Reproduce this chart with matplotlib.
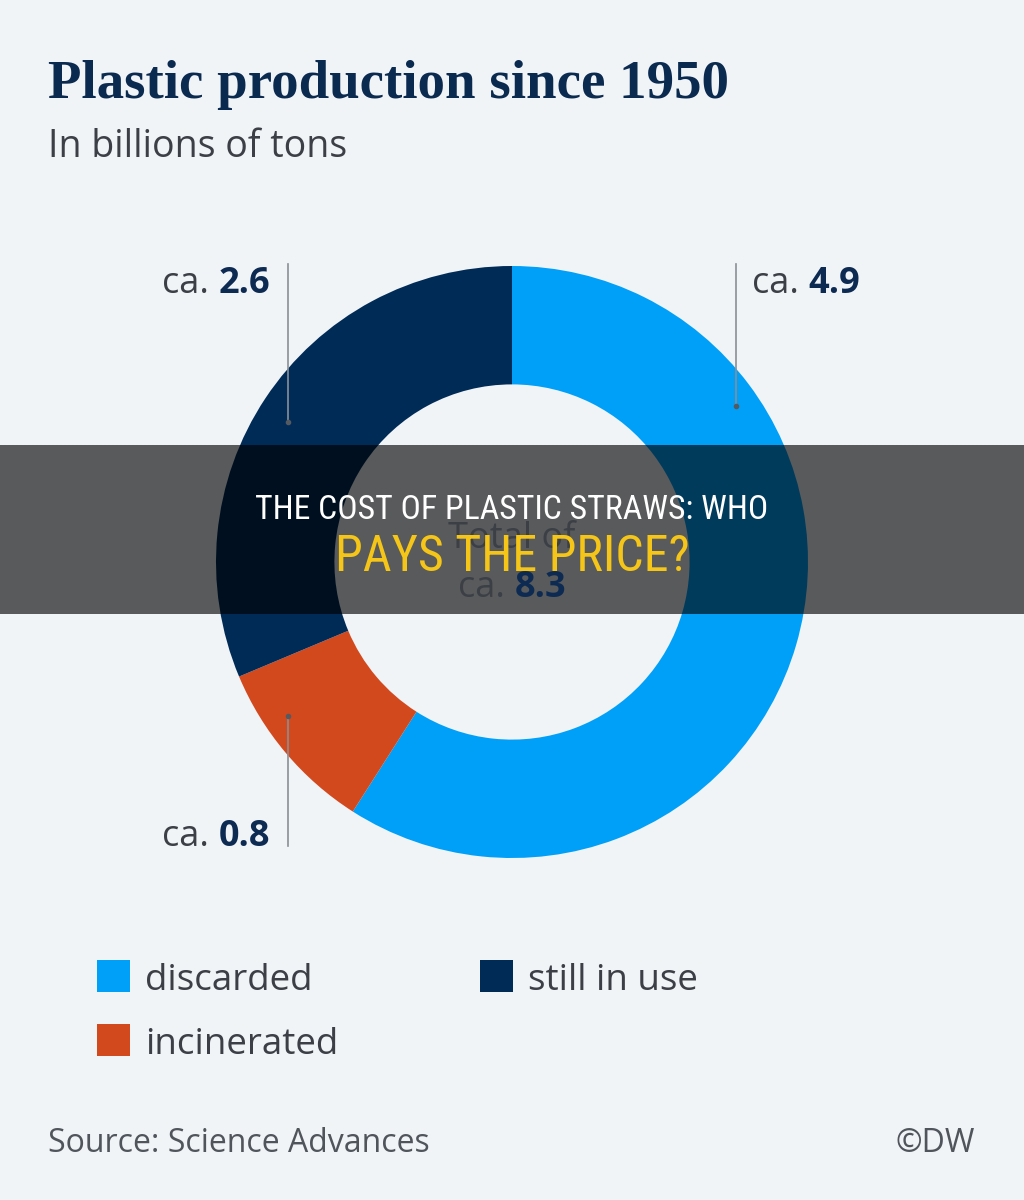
import matplotlib
matplotlib.use("Agg")
import matplotlib.pyplot as plt
from matplotlib.lines import Line2D
from matplotlib.patches import Rectangle

# values in billions of tons
categories = ["discarded", "incinerated", "still in use"]
values = [4.9, 0.8, 2.6]
value_labels = ["4.9", "0.8", "2.6"]
total_label = "8.3"
colors = ["#00a0f8", "#d3491e", "#002b56"]

W, H = 1024, 1200
BG = "#f1f4f7"
NAVY = "#0d2b52"
GREY = "#3c4046"
SANS = ["Open Sans", "DejaVu Sans"]
COND = ["Roboto Condensed", "Roboto", "DejaVu Sans"]

fig = plt.figure(figsize=(W / 100, H / 100), dpi=100, facecolor=BG)


def fx(x):
    return x / W


def fy(y):
    return 1 - y / H


# donut
ax = fig.add_axes([fx(216), fy(858), 592 / W, 592 / H])
ax.set_facecolor(BG)
wedges, _ = ax.pie(values, colors=colors, startangle=90, counterclock=False, radius=1,
                   wedgeprops=dict(width=0.4, linewidth=0))
ax.set_xlim(-1, 1)
ax.set_ylim(-1, 1)
ax.set_aspect("equal")
ax.axis("off")

fig.text(fx(48), fy(98), "Plastic production since 1950", family=["Liberation Serif"],
         weight="bold", fontsize=39.5, color="#0b2a50", va="baseline")
fig.text(fx(48), fy(157), "In billions of tons", family=SANS, fontsize=27,
         color=GREY, va="baseline")

renderer = fig.canvas.get_renderer()
FS = 26


def label(x, y, num, align):
    if align == "left":
        t1 = fig.text(fx(x), fy(y), "ca. ", family=SANS, fontsize=FS, color=GREY, va="baseline")
        bb = t1.get_window_extent(renderer)
        fig.text(bb.x1 / W, fy(y), num, family=SANS, weight="bold", fontsize=FS,
                 color=NAVY, va="baseline")
    else:
        t2 = fig.text(fx(x), fy(y), num, family=SANS, weight="bold", fontsize=FS,
                      color=NAVY, va="baseline", ha="right")
        bb = t2.get_window_extent(renderer)
        fig.text(bb.x0 / W, fy(y), "ca. ", family=SANS, fontsize=FS, color=GREY,
                 va="baseline", ha="right")


def leader(x, y0, y1, dot=True):
    fig.add_artist(Line2D([fx(x), fx(x)], [fy(y0), fy(y1)], color="#8a8f96", lw=1.2))
    if dot:
        fig.add_artist(Line2D([fx(x)], [fy(y1)], marker="o", ms=3, color="#555a60"))


label(752, 293, value_labels[0], "left")
leader(736, 264, 406)
label(270, 293, value_labels[2], "right")
leader(288, 264, 422)
label(270, 846, value_labels[1], "right")
leader(288, 846, 716)

# center text
fig.text(0.5, fy(548), "Total of", family=SANS, fontsize=FS, color=GREY,
         ha="center", va="baseline")
tc = fig.text(0.5, fy(597), "ca. ", family=SANS, fontsize=FS, color=GREY, ha="right", va="baseline")
tn = fig.text(0.5, fy(597), total_label, family=SANS, weight="bold", fontsize=FS, color=NAVY,
              ha="left", va="baseline")
w1 = tc.get_window_extent(renderer).width
w2 = tn.get_window_extent(renderer).width
shift = (w1 - w2) / 2 / W
tc.set_x(0.5 + shift)
tn.set_x(0.5 + shift)

# legend
leg = [(97, 960, 0, 145, 990), (480, 960, 2, 528, 990), (97, 1024, 1, 145, 1054)]
for sx, sy, i, tx, ty in leg:
    fig.add_artist(Rectangle((fx(sx), fy(sy + 32)), 33 / W, 32 / H, transform=fig.transFigure,
                             facecolor=colors[i], edgecolor="none"))
    fig.text(fx(tx), fy(ty), categories[i], family=SANS, fontsize=26.5,
             color=GREY, va="baseline")

fig.text(fx(48), fy(1152), "Source: Science Advances", family=SANS, fontsize=23,
         color="#50555c", va="baseline")
fig.text(fx(975), fy(1152), "\u00a9DW", family=SANS, fontsize=23, color="#50555c",
         va="baseline", ha="right")

# overlay banner
fig.add_artist(Rectangle((0, fy(614)), 1, 169 / H, transform=fig.transFigure,
                         facecolor="black", alpha=0.63, edgecolor="none"))
fig.text(0.5, fy(519), "THE COST OF PLASTIC STRAWS: WHO", family=COND,
         fontsize=24.3, color="white", ha="center", va="baseline")
fig.text(0.5, fy(571), "PAYS THE PRICE?", family=COND,
         fontsize=36, color="#f5c518", ha="center", va="baseline")

fig.savefig("out.png", dpi=100, facecolor=BG)
